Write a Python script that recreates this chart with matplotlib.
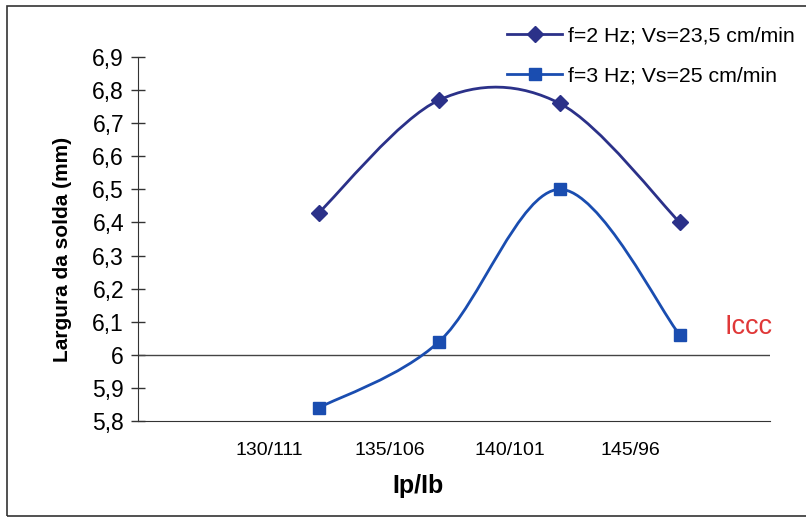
import matplotlib.pyplot as plt
from matplotlib.path import Path
from matplotlib.patches import PathPatch, Rectangle
from matplotlib.lines import Line2D
import numpy as np

plt.rcParams['font.family'] = ['Liberation Sans', 'DejaVu Sans']

# data
categorias = ['130/111', '135/106', '140/101', '145/96']
largura_2hz = [6.43, 6.77, 6.76, 6.40]
largura_3hz = [5.84, 6.04, 6.50, 6.06]
nome_2hz = 'f=2 Hz; Vs=23,5 cm/min'
nome_3hz = 'f=3 Hz; Vs=25 cm/min'
y_ticks = [5.8, 5.9, 6.0, 6.1, 6.2, 6.3, 6.4, 6.5, 6.6, 6.7, 6.8, 6.9]
limite = 6.0

cor_2hz = '#2b3189'
cor_3hz = '#1a4db0'


def curva_suave(x, y):
    # Excel-like smoothed line: cubic bezier with catmull-rom control points
    x = np.asarray(x, float)
    y = np.asarray(y, float)
    n = len(x)
    verts = [(x[0], y[0])]
    codes = [Path.MOVETO]
    for i in range(n - 1):
        i0 = max(i - 1, 0)
        i3 = min(i + 2, n - 1)
        c1 = (x[i] + (x[i + 1] - x[i0]) / 6, y[i] + (y[i + 1] - y[i0]) / 6)
        c2 = (x[i + 1] - (x[i3] - x[i]) / 6, y[i + 1] - (y[i3] - y[i]) / 6)
        verts += [c1, c2, (x[i + 1], y[i + 1])]
        codes += [Path.CURVE4] * 3
    return Path(verts, codes)


fig = plt.figure(figsize=(8.06, 5.18), dpi=100)
ax = fig.add_axes([0.1712, 0.1873, 0.7841, 0.7027])

xs = np.arange(len(categorias))

for vals, cor, mk, ms in [(largura_2hz, cor_2hz, 'D', 8), (largura_3hz, cor_3hz, 's', 9)]:
    ax.add_patch(PathPatch(curva_suave(xs, vals), facecolor='none', edgecolor=cor, lw=2.0, zorder=3))
    ax.plot(xs, vals, linestyle='none', marker=mk, markersize=ms, color=cor, zorder=4)

ax.axhline(limite, color='#444444', lw=1.0, zorder=2)

ax.set_xlim(-1.505, 3.75)
ax.set_ylim(5.8, 6.9)

ax.spines['top'].set_visible(False)
ax.spines['right'].set_visible(False)
ax.spines['left'].set_color('#333333')
ax.spines['bottom'].set_color('#333333')

ax.set_yticks(y_ticks)
ax.set_yticklabels([('%.1f' % v).replace('.', ',') if abs(v - round(v)) > 1e-9 else '%d' % round(v) for v in y_ticks])
ax.tick_params(axis='y', direction='inout', length=10, width=1, color='#333333', labelsize=16.5, pad=5)

ax.set_xticks(xs - 0.41)
ax.set_xticklabels(categorias)
ax.tick_params(axis='x', length=0, labelsize=14, pad=15)

ax.set_ylabel('Largura da solda (mm)', fontsize=15, fontweight='bold')
ax.yaxis.set_label_coords(-0.105, 0.47)
ax.set_xlabel('Ip/Ib', fontsize=18, fontweight='bold')
ax.xaxis.set_label_coords(0.443, -0.145)

ax.text(3.57, 6.085, 'Iccc', color='#e03838', fontsize=19.5, ha='center', va='center')

h1 = Line2D([], [], color=cor_2hz, lw=2, marker='D', markersize=8)
h2 = Line2D([], [], color=cor_3hz, lw=2, marker='s', markersize=9)
fig.legend([h1, h2], [nome_2hz, nome_3hz], loc='upper left', bbox_to_anchor=(0.6055, 0.985),
           frameon=False, fontsize=15.3, handlelength=2.6, handletextpad=0.28, labelspacing=0.95)

fig.patches.append(Rectangle((7 / 806, 2 / 518), 1.0, 510 / 518, transform=fig.transFigure,
                             fill=False, edgecolor='#333333', lw=1.2))

plt.savefig('out.png', dpi=100)
